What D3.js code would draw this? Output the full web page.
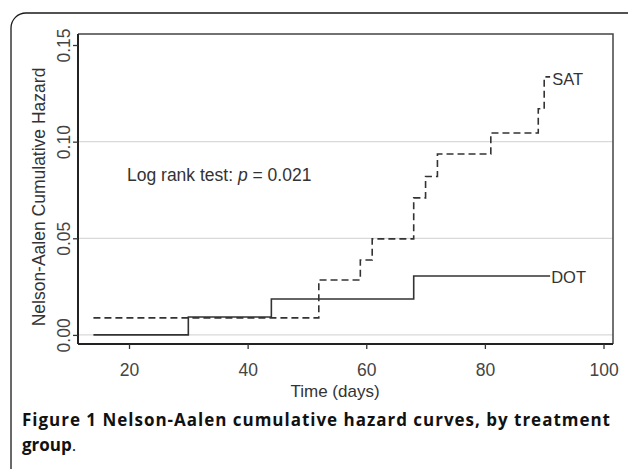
<!DOCTYPE html>
<html>
<head>
<meta charset="utf-8">
<script src="https://cdn.jsdelivr.net/npm/d3@7"></script>
<style>
  body { margin: 0; background: #fff; }
  svg { display: block; }
  .chart-text { font-family: "Liberation Sans", Arial, sans-serif; fill: #333; }
</style>
</head>
<body>
<script>
// Nelson-Aalen cumulative hazard
var dotTimes = [14, 30, 44, 68, 91];
var dotHazard = [0, 0.0093, 0.0186, 0.0305, 0.0305];

var satTimes = [14, 52, 59, 61, 68, 70, 72, 81, 89, 90, 91];
var satHazard = [0.0088, 0.0284, 0.0388, 0.0497, 0.0709, 0.082, 0.0936, 0.1045, 0.117, 0.1335, 0.1335];

var xTicks = [20, 40, 60, 80, 100];
var yTicks = [0, 0.05, 0.10, 0.15];
var gridTicks = [0, 0.05, 0.10];

var svgWidth = 628;
var svgHeight = 469;

var svg = d3.select("body")
  .append("svg")
  .attr("width", svgWidth)
  .attr("height", svgHeight);

// outer rounded box of the figure
svg.append("rect")
  .attr("x", 11)
  .attr("y", 13)
  .attr("width", 660)
  .attr("height", 520)
  .attr("rx", 15)
  .attr("fill", "none")
  .attr("stroke", "#1a1a1a")
  .attr("stroke-width", 1.3);

// scales
var x = d3.scaleLinear().domain([11.4, 101.6]).range([78, 613]);
var y = d3.scaleLinear().domain([-0.0047, 0.1557]).range([344, 34]);

// grid lines
svg.selectAll(".grid")
  .data(gridTicks)
  .enter()
  .append("line")
  .attr("x1", x(11.4))
  .attr("x2", x(101.6))
  .attr("y1", d => y(d))
  .attr("y2", d => y(d))
  .attr("stroke", "#d9d9d9")
  .attr("stroke-width", 1.2);

// top and right frame
svg.append("path")
  .attr("d", `M${x(11.4)},${y(0.1557)}H${x(101.6)}V${y(-0.0047)}`)
  .attr("fill", "none")
  .attr("stroke", "#444")
  .attr("stroke-width", 1.5);

// axes
var xAxis = d3.axisBottom(x).tickValues(xTicks).tickSize(5).tickFormat(d3.format("d"));
var yAxis = d3.axisLeft(y).tickValues(yTicks).tickSize(5).tickFormat(d3.format(".2f"));

var gx = svg.append("g")
  .attr("transform", `translate(0, ${y(-0.0047)})`)
  .call(xAxis);
var gy = svg.append("g")
  .attr("transform", `translate(${x(11.4)}, 0)`)
  .call(yAxis);

[gx, gy].forEach(function(g) {
  g.select(".domain").attr("stroke", "#222").attr("stroke-width", 2);
  g.selectAll(".tick line").attr("stroke", "#333").attr("stroke-width", 1.3);
  g.selectAll(".tick text")
    .attr("font-family", "Liberation Sans, Arial, sans-serif")
    .attr("font-size", 17.5)
    .attr("fill", "#444");
});

gx.select(".domain").attr("d", `M${x(11.4)},0H${x(101.6)}`);
gy.select(".domain").attr("d", `M0,${y(0.1557)}V${y(-0.0047)}`);

gx.selectAll(".tick text").attr("y", 32).attr("dy", null);

// rotated y tick labels
gy.selectAll(".tick text")
  .attr("text-anchor", "middle")
  .attr("x", null)
  .attr("dy", null)
  .attr("transform", "translate(-8, 0) rotate(-90)");

// curves
var line = d3.line()
  .x(d => x(d[0]))
  .y(d => y(d[1]))
  .curve(d3.curveStepAfter);

svg.append("path")
  .datum(d3.zip(dotTimes, dotHazard))
  .attr("d", line)
  .attr("fill", "none")
  .attr("stroke", "#333")
  .attr("stroke-width", 1.6);

svg.append("path")
  .datum(d3.zip(satTimes, satHazard))
  .attr("d", line)
  .attr("fill", "none")
  .attr("stroke", "#333")
  .attr("stroke-width", 1.6)
  .attr("stroke-dasharray", "7,4");

// curve labels
svg.append("text")
  .attr("class", "chart-text")
  .attr("x", x(91) + 2)
  .attr("y", y(0.1335) + 8)
  .attr("font-size", 16.5)
  .text("SAT");

svg.append("text")
  .attr("class", "chart-text")
  .attr("x", x(91) + 1)
  .attr("y", y(0.0305) + 7)
  .attr("font-size", 16.5)
  .text("DOT");

// log rank annotation
var lr = svg.append("text")
  .attr("class", "chart-text")
  .attr("x", 127)
  .attr("y", 181)
  .attr("font-size", 17.5);
lr.append("tspan").text("Log rank test: ");
lr.append("tspan").attr("font-style", "italic").text("p");
lr.append("tspan").text(" = 0.021");

// axis titles
svg.append("text")
  .attr("class", "chart-text")
  .attr("transform", "translate(45, 197) rotate(-90)")
  .attr("text-anchor", "middle")
  .attr("font-size", 17.5)
  .text("Nelson-Aalen Cumulative Hazard");

svg.append("text")
  .attr("class", "chart-text")
  .attr("x", 335)
  .attr("y", 397)
  .attr("text-anchor", "middle")
  .attr("font-size", 17)
  .text("Time (days)");

// caption
svg.append("text")
  .attr("x", 22)
  .attr("y", 426)
  .attr("font-family", "Open Sans, DejaVu Sans, sans-serif")
  .attr("font-weight", 700)
  .attr("font-size", 17)
  .attr("fill", "#111")
  .attr("textLength", 588)
  .attr("lengthAdjust", "spacing")
  .text("Figure 1 Nelson-Aalen cumulative hazard curves, by treatment");

var cap2 = svg.append("text")
  .attr("x", 22)
  .attr("y", 451)
  .attr("font-family", "Open Sans, DejaVu Sans, sans-serif")
  .attr("font-size", 17)
  .attr("fill", "#111");
cap2.append("tspan").attr("font-weight", 700).text("group");
cap2.append("tspan").text(".");
</script>
</body>
</html>
